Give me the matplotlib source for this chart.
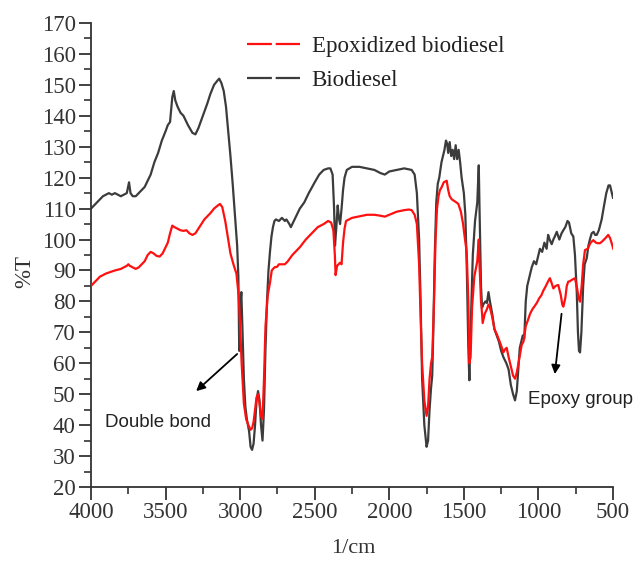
import matplotlib
matplotlib.use("Agg")
import matplotlib.pyplot as plt
from matplotlib.lines import Line2D
from matplotlib.ticker import MultipleLocator

# ---------------- data ----------------
bio_x = [4000, 3970, 3950, 3920, 3900, 3880, 3860, 3840, 3820, 3800, 3780, 3760, 3745, 3735,
         3720, 3700, 3680, 3660, 3640, 3620, 3600, 3575, 3550, 3525, 3500, 3485, 3470, 3455,
         3445, 3435, 3420, 3400, 3380, 3350, 3320, 3300, 3280, 3250, 3220, 3200, 3175, 3150,
         3140, 3125, 3110, 3095, 3080, 3065, 3050, 3035, 3020, 3012, 3006, 3000, 2992, 2985,
         2975, 2965, 2955, 2940, 2930, 2920, 2910, 2900, 2890, 2880, 2870, 2860, 2850, 2840,
         2830, 2820, 2810, 2800, 2790, 2780, 2770, 2760, 2740, 2720, 2710, 2700, 2690, 2670,
         2660, 2650, 2630, 2600, 2570, 2540, 2500, 2470, 2440, 2410, 2395, 2380, 2370, 2364,
         2355, 2346, 2338, 2330, 2320, 2310, 2300, 2285, 2250, 2200, 2150, 2100, 2060, 2030,
         2000, 1950, 1900, 1850, 1830, 1815, 1800, 1790, 1780, 1765, 1750, 1740, 1730, 1720,
         1712, 1705, 1695, 1685, 1675, 1665, 1650, 1640, 1630, 1620, 1612, 1605, 1595, 1585,
         1575, 1565, 1555, 1545, 1535, 1525, 1515, 1500, 1490, 1480, 1470, 1463, 1455, 1440,
         1425, 1410, 1400, 1395, 1385, 1378, 1370, 1355, 1345, 1335, 1325, 1310, 1295, 1280,
         1265, 1250, 1235, 1215, 1200, 1185, 1170, 1157, 1145, 1135, 1125, 1115, 1105, 1095,
         1085, 1075, 1060, 1045, 1030, 1015, 1000, 990, 975, 960, 945, 935, 925, 911, 900,
         890, 877, 860, 845, 833, 820, 805, 795, 780, 766, 755, 743, 735, 728, 721, 712, 700,
         690, 676, 665, 655, 643, 630, 620, 609, 595, 576, 560, 545, 530, 520, 510, 500]
bio_y = [110, 111.5, 112.5, 114, 114.5, 115, 114.5, 115, 114.5, 114, 114.5, 115, 118.5, 115,
         114, 114, 115, 116, 117, 119, 121, 125, 128, 132, 135, 137, 138, 146,
         148, 145, 143, 141, 140, 137, 134.5, 134, 136, 140, 144, 147, 150, 151.5,
         152, 150.5, 148, 143, 135, 127, 118, 108, 98, 88, 64, 78, 83, 72,
         55, 46, 42, 38, 33, 32, 34, 40, 48, 51, 48, 40, 35, 45,
         65, 80, 90, 96, 101, 104, 106, 106.5, 106, 107, 106.5, 106, 106.5, 105,
         104, 105, 107, 110, 112, 115, 118.5, 121, 122.5, 123, 123, 121, 110, 98,
         104, 111, 107, 105, 110, 116, 120, 122.5, 123.5, 123.5, 123, 122.5, 121.5, 121,
         122, 122.5, 123, 122.5, 121, 115, 100, 80, 55, 40, 33, 35, 45, 52,
         56, 70, 95, 112, 118, 120, 125, 127, 129, 132, 131, 128, 131.5, 127,
         129, 126, 130.5, 126, 129, 125, 120, 115, 108, 90, 65, 54.5, 70, 95,
         106, 112, 124, 110, 85, 78, 79, 80, 79.5, 83, 80, 76, 71, 69,
         67, 64, 62, 60, 58, 53, 50, 48, 51, 58, 65, 67, 69, 68,
         80, 85, 88, 91, 93, 92, 95, 97, 96, 99, 97, 101.5, 100, 98.5, 100,
         101, 102.5, 100, 102, 103, 104, 106, 105.5, 102, 101, 95, 83, 70, 64, 63.5, 70, 85,
         92, 94, 98, 100, 102, 102.5, 101.5, 101.5, 103, 106.5, 111, 115, 117.5, 117.5, 115.5, 113.5]

epo_x = [4000, 3970, 3940, 3900, 3870, 3840, 3800, 3780, 3760, 3750, 3740, 3720, 3700, 3680,
         3660, 3640, 3620, 3600, 3580, 3560, 3540, 3520, 3500, 3485, 3470, 3455, 3440, 3420,
         3400, 3380, 3360, 3340, 3320, 3300, 3280, 3260, 3240, 3220, 3200, 3175, 3150, 3135,
         3120, 3100, 3080, 3065, 3045, 3025, 3010, 3000, 2990, 2975, 2960, 2945, 2930, 2920,
         2910, 2900, 2890, 2880, 2870, 2860, 2850, 2840, 2830, 2815, 2800, 2788, 2770, 2752,
         2740, 2720, 2700, 2680, 2650, 2620, 2600, 2560, 2520, 2480, 2440, 2410, 2390, 2375,
         2365, 2360, 2350, 2340, 2330, 2320, 2310, 2300, 2290, 2250, 2200, 2150, 2100, 2060,
         2030, 2000, 1950, 1900, 1870, 1850, 1830, 1815, 1800, 1790, 1780, 1765, 1750, 1740,
         1730, 1720, 1712, 1700, 1690, 1680, 1670, 1660, 1648, 1635, 1622, 1615, 1605, 1595,
         1581, 1565, 1550, 1537, 1520, 1505, 1495, 1481, 1470, 1463, 1455, 1445, 1430, 1410,
         1400, 1395, 1385, 1378, 1374, 1360, 1345, 1335, 1325, 1310, 1295, 1280, 1260, 1245,
         1235, 1224, 1213, 1200, 1185, 1170, 1157, 1145, 1130, 1112, 1100, 1085, 1070, 1056,
         1040, 1025, 1011, 995, 980, 967, 950, 935, 923, 912, 900, 885, 867, 850, 840, 833,
         820, 810, 800, 790, 775, 755, 740, 730, 721, 710, 700, 688, 670, 650, 632, 615, 600,
         588, 570, 550, 532, 520, 510, 498]
epo_y = [85, 86.5, 88, 89, 89.5, 90, 90.5, 91, 91.5, 92, 91.5, 91, 90.5, 91,
         92, 93, 95, 96, 95.5, 94.7, 94.5, 95.5, 97.5, 99, 102, 104.5, 104, 103.5,
         103, 102.8, 103, 102, 101.5, 102, 103.5, 105, 106.5, 107.5, 108.5, 110, 111, 111.5,
         110.5, 106, 100, 95.5, 92, 89, 82, 72, 60, 47, 42, 40, 38.5, 39,
         41, 45, 49, 50, 47, 43, 42, 55, 72, 82, 86, 90, 91, 91.2,
         92, 92, 92, 93, 95, 96.5, 97.5, 100, 102, 104, 105, 106, 105.5, 103,
         95, 88.5, 91.5, 92, 92.5, 92, 99, 103.5, 106, 107, 107.5, 108, 108, 107.7,
         107.4, 108, 109, 109.5, 109.7, 109.5, 108, 105, 92, 75, 60, 48, 43, 46,
         55, 60, 62, 80, 100, 110, 114, 116, 117, 118.5, 118.8, 119, 116, 114,
         113, 112.5, 112, 111.5, 109, 105, 101, 96, 80, 60, 62, 78, 88, 93,
         100, 92, 80, 76, 73, 76, 77.5, 79, 78, 75, 71, 69.5, 67, 65,
         63.5, 64.5, 65, 62, 59, 56, 55, 57, 61, 66, 67, 72, 74, 76,
         77.5, 78.5, 79.5, 81, 82, 83.5, 85, 86.5, 87.5, 86, 84.2, 85, 85.3, 82, 79, 78.3,
         81, 85, 86.4, 86.5, 87, 87.5, 84, 81, 79.9, 85, 92, 96.6, 97, 99, 99.8, 99, 98.8,
         98.8, 99.5, 100.5, 101.5, 100.5, 99, 97]

series_labels = ["Epoxidized biodiesel", "Biodiesel"]
x_ticks = [4000, 3500, 3000, 2500, 2000, 1500, 1000, 500]
y_ticks = [20, 30, 40, 50, 60, 70, 80, 90, 100, 110, 120, 130, 140, 150, 160, 170]
notes = ["Double bond", "Epoxy group"]

# ---------------- figure ----------------
W, H = 644, 563
fig = plt.figure(figsize=(W / 100, H / 100), dpi=100)
ax = fig.add_axes([91 / W, 1 - 487 / H, (613 - 91) / W, (487 - 23) / H])

serif = "Liberation Serif"
sans = "Liberation Sans"
red = "#ff1010"
dark = "#3c3c3c"

ax.plot(bio_x, bio_y, color=dark, lw=1.6, zorder=2)
ax.plot(epo_x, epo_y, color=red, lw=1.6, zorder=3)

ax.set_xlim(4000, 500)
ax.set_ylim(20, 170)
ax.set_xticks(x_ticks)
ax.set_yticks(y_ticks)
ax.xaxis.set_minor_locator(MultipleLocator(250))
ax.yaxis.set_minor_locator(MultipleLocator(5))

for s in ["top", "right"]:
    ax.spines[s].set_visible(False)
for s in ["left", "bottom"]:
    ax.spines[s].set_linewidth(1.3)
    ax.spines[s].set_color("#333333")

ax.tick_params(which="major", direction="out", length=9, width=1.3, color="#333333",
               labelsize=16.5, labelcolor="#333333", pad=2)
ax.tick_params(which="minor", direction="out", length=5, width=1.2, color="#333333")
for lab in ax.get_xticklabels() + ax.get_yticklabels():
    lab.set_fontfamily(serif)

ax.set_xlabel("1/cm", fontfamily=serif, fontsize=16, color="#333333")
ax.xaxis.set_label_coords((353 - 91) / 522, (487 - 539) / 464)
ax.set_ylabel("%T", fontfamily=serif, fontsize=16.5, color="#333333")
ax.yaxis.set_label_coords((35 - 91) / 522, (487 - 272) / 464)

# legend (Origin-style split line handles)
handles = [Line2D([], [], color=red, lw=1.6, dashes=(11.2, 1.7)),
           Line2D([], [], color=dark, lw=1.6, dashes=(11.2, 1.7))]
leg = fig.legend(handles, series_labels, loc="upper left",
                 bbox_to_anchor=(247 / W, 1 - 36 / H), frameon=False,
                 prop={"family": serif, "size": 16.5}, handlelength=2.3,
                 handletextpad=0.52, labelspacing=0.58, borderpad=0, borderaxespad=0)
for t in leg.get_texts():
    t.set_color("#222222")

# annotations
ax.annotate("", xy=(3295, 51), xytext=(3020, 63),
            arrowprops=dict(arrowstyle="-|>", color="black", lw=1.3, mutation_scale=13,
                            shrinkA=0, shrinkB=0))
ax.text(3906, 40.8, notes[0], fontfamily=sans, fontsize=13.5, color="#222222",
        ha="left", va="center")
ax.annotate("", xy=(890, 56.5), xytext=(845, 76),
            arrowprops=dict(arrowstyle="-|>", color="black", lw=1.3, mutation_scale=13,
                            shrinkA=0, shrinkB=0))
ax.text(1070, 48.3, notes[1], fontfamily=sans, fontsize=13.5, color="#222222",
        ha="left", va="center", clip_on=False)

fig.savefig("out.png", dpi=100)
